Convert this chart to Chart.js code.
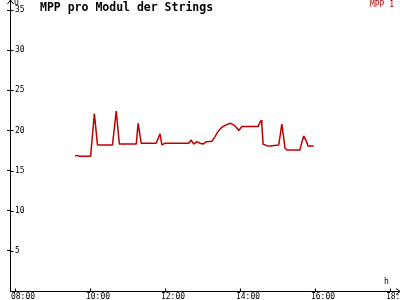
<!DOCTYPE html>
<html><head><meta charset="utf-8">
<script src="https://cdn.jsdelivr.net/npm/chart.js@4/dist/chart.umd.min.js"></script>
<style>html,body{margin:0;padding:0;background:#fff}#c{display:block}</style>
</head><body>
<div style="width:400px;height:300px"><canvas id="c" width="400" height="300"></canvas></div>
<script>
const chartTitle = "MPP pro Modul der Strings";
const seriesName = "MPP 1";
const times = ["09:36","09:39","09:42","10:01","10:07","10:12","10:36","10:42","10:47","11:14","11:17","11:22","11:46","11:52","11:55","12:00","12:38","12:42","12:46","12:51","12:56","13:01","13:06","13:15","13:20","13:25","13:31","13:38","13:44","13:50","13:55","13:58","14:03","14:29","14:32","14:34","14:35","14:37","14:43","14:48","15:02","15:07","15:12","15:15","15:36","15:39","15:42","15:46","15:49","15:58"];
const values = [16.8,16.9,16.8,16.8,22.1,18.2,18.2,22.4,18.3,18.3,20.9,18.4,18.4,19.6,18.2,18.4,18.4,18.8,18.3,18.6,18.4,18.3,18.6,18.65,19.2,19.9,20.4,20.7,20.9,20.7,20.3,20.0,20.5,20.5,21.0,21.3,20.7,18.3,18.1,18.05,18.2,20.8,17.8,17.55,17.55,18.55,19.3,18.7,18.05,18.05];
const xTickHours = [8,10,12,14,16,18];
const yTickValues = [5,10,15,20,25,30,35];

function toHours(t){const p=t.split(":");return +p[0]+ +p[1]/60;}
const pts = times.map((t,i)=>({x:toHours(t),y:values[i]}));
const mono = "'DejaVu Sans Mono', 'Liberation Mono', monospace";

const deco = {
  id:'deco',
  afterDraw(chart){
    const ctx=chart.ctx, xs=chart.scales.x, ys=chart.scales.y;
    const ax=Math.round(xs.left)+0.5, ay=Math.round(ys.bottom)+0.5;
    ctx.save();
    ctx.strokeStyle='#000'; ctx.lineWidth=1;
    ctx.beginPath();
    ys.ticks.forEach(t=>{const py=Math.round(ys.getPixelForValue(t.value))+0.5;ctx.moveTo(ax,py);ctx.lineTo(ax+3,py);});
    xs.ticks.forEach(t=>{const px=Math.round(xs.getPixelForValue(t.value))+0.5;ctx.moveTo(px,ay);ctx.lineTo(px,ay-3);});
    ctx.moveTo(ax,0);ctx.lineTo(ax-3,4);ctx.moveTo(ax,0);ctx.lineTo(ax+3,4);ctx.moveTo(ax,0);ctx.lineTo(ax,ys.top);
    const rx=400;
    ctx.moveTo(rx,ay);ctx.lineTo(rx-4,ay-3);ctx.moveTo(rx,ay);ctx.lineTo(rx-4,ay+3);ctx.moveTo(xs.right,ay);ctx.lineTo(rx,ay);
    ctx.stroke();
    ctx.fillStyle='#000';
    ctx.font="8px "+mono; ctx.textBaseline='top'; ctx.textAlign='left';
    ctx.fillText("U",14,-1);
    ctx.fillText("h",384,278);
    ctx.font="bold 11.5px "+mono;
    ctx.fillText(chartTitle,40,2);
    ctx.fillStyle='#c00000';
    ctx.font="8px "+mono; ctx.textAlign='right';
    ctx.fillText(seriesName,394,1);
    ctx.restore();
  }
};

new Chart(document.getElementById('c'),{
  type:'line',
  data:{datasets:[{label:seriesName,data:pts,borderColor:'#c00000',borderWidth:1.5,borderJoinStyle:'bevel',pointRadius:0,tension:0,fill:false}]},
  options:{
    responsive:false,animation:false,
    layout:{padding:{top:2,right:3,left:0,bottom:0}},
    plugins:{legend:{display:false},title:{display:false},tooltip:{enabled:false}},
    scales:{
      x:{type:'linear',min:7.867,max:18.187,
        afterBuildTicks(s){s.ticks=xTickHours.map(v=>({value:v}));},
        afterFit(s){s.height=9;s.paddingLeft=0;s.paddingRight=0;},
        grid:{drawOnChartArea:false,tickLength:2,color:'#000'},
        border:{color:'#000',width:1},
        ticks:{color:'#000',padding:0,align:'start',labelOffset:-4,maxRotation:0,autoSkip:false,
          font:{family:mono,size:8,lineHeight:1},
          callback:(v)=>String(v).padStart(2,'0')+":00"}
      },
      y:{type:'linear',min:0,max:36,
        afterBuildTicks(s){s.ticks=yTickValues.map(v=>({value:v}));},
        afterFit(s){s.width=10;s.paddingTop=0;s.paddingBottom=0;},
        grid:{drawOnChartArea:false,tickLength:3,color:'#000'},
        border:{color:'#000',width:1},
        ticks:{color:'#000',mirror:true,padding:5,font:{family:mono,size:8,lineHeight:1}}
      }
    }
  },
  plugins:[deco]
});
</script>
</body></html>
